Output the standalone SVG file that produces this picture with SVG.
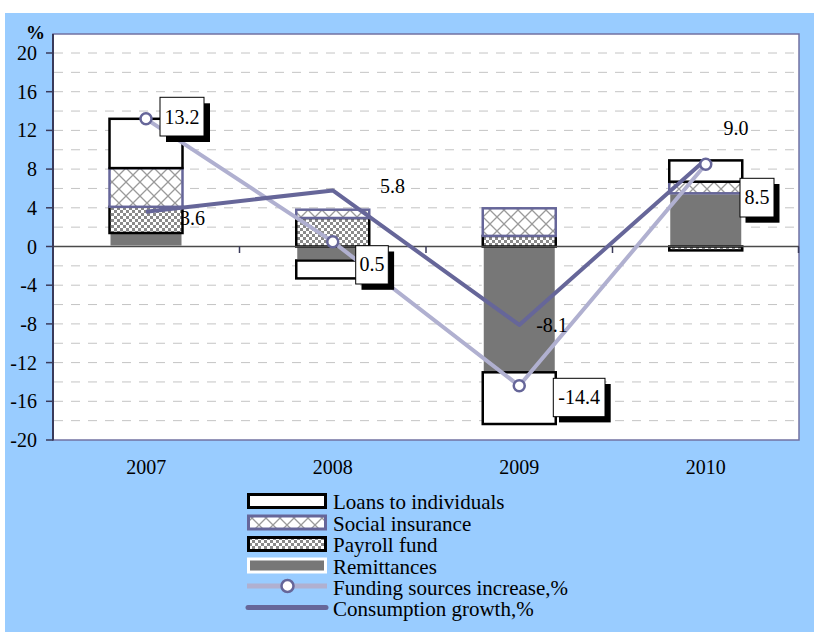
<svg xmlns="http://www.w3.org/2000/svg" width="814" height="632" viewBox="0 0 814 632" font-family="'Liberation Serif', 'Times New Roman', 'DejaVu Serif', serif">
<defs>
<pattern id="cross" width="14" height="14" patternUnits="userSpaceOnUse">
<rect width="14" height="14" fill="#ffffff"/>
<path d="M0,0 L14,14 M14,0 L0,14" stroke="#9a9a9a" stroke-width="1.3" fill="none"/>
</pattern>
<pattern id="check" width="6" height="6" patternUnits="userSpaceOnUse">
<rect width="6" height="6" fill="#ffffff"/>
<rect x="0" y="0" width="3" height="3" fill="#8a8a8a"/>
<rect x="3" y="3" width="3" height="3" fill="#8a8a8a"/>
</pattern>
</defs>
<style>
text{font-family:'Liberation Serif','Times New Roman','DejaVu Serif',serif;fill:#000}
.ax{font-size:20px;text-anchor:end}
.cat{font-size:20px;text-anchor:middle}
.lbl{font-size:20px;text-anchor:middle}
.leg{font-size:21px}
.grid{stroke:#c4c4c4;stroke-width:1;stroke-dasharray:9 8}
.loans{fill:#ffffff;stroke:#000;stroke-width:2.5}
.soc{fill:url(#cross);stroke:#666699;stroke-width:2.5}
.pay{fill:url(#check);stroke:#000;stroke-width:2.5}
.rem{fill:#777777;stroke:#ffffff;stroke-width:2}
.fund{fill:none;stroke:#b0b0d0;stroke-width:4;stroke-linejoin:round}
.cons{fill:none;stroke:#666699;stroke-width:4;stroke-linejoin:round}
.mk{fill:#ffffff;stroke:#666699;stroke-width:2.5}
.shadow{fill:#000}
.box{fill:#ffffff;stroke:#000;stroke-width:1}
.tick{stroke:#3a3a5a;stroke-width:1.5}
</style>
<rect x="0" y="0" width="814" height="632" fill="#ffffff"/>
<rect x="5" y="13" width="809" height="619" fill="#99ccff"/>
<g id="plot">
<rect x="53" y="34" width="746" height="406" fill="#ffffff" stroke="#7272a2" stroke-width="1.5"/>
<g id="gridlines">
<line class="grid" x1="54" y1="53" x2="798" y2="53"/>
<line class="grid" x1="54" y1="72.35" x2="798" y2="72.35"/>
<line class="grid" x1="54" y1="91.7" x2="798" y2="91.7"/>
<line class="grid" x1="54" y1="111.05" x2="798" y2="111.05"/>
<line class="grid" x1="54" y1="130.4" x2="798" y2="130.4"/>
<line class="grid" x1="54" y1="149.75" x2="798" y2="149.75"/>
<line class="grid" x1="54" y1="169.1" x2="798" y2="169.1"/>
<line class="grid" x1="54" y1="188.45" x2="798" y2="188.45"/>
<line class="grid" x1="54" y1="207.8" x2="798" y2="207.8"/>
<line class="grid" x1="54" y1="227.15" x2="798" y2="227.15"/>
<line class="grid" x1="54" y1="265.85" x2="798" y2="265.85"/>
<line class="grid" x1="54" y1="285.2" x2="798" y2="285.2"/>
<line class="grid" x1="54" y1="304.55" x2="798" y2="304.55"/>
<line class="grid" x1="54" y1="323.9" x2="798" y2="323.9"/>
<line class="grid" x1="54" y1="343.25" x2="798" y2="343.25"/>
<line class="grid" x1="54" y1="362.6" x2="798" y2="362.6"/>
<line class="grid" x1="54" y1="381.95" x2="798" y2="381.95"/>
<line class="grid" x1="54" y1="401.3" x2="798" y2="401.3"/>
<line class="grid" x1="54" y1="420.65" x2="798" y2="420.65"/>
</g>
</g>
<g id="bars">
<g id="bar-2007">
<rect class="rem" x="109.5" y="233" width="73" height="13.5"/>
<rect class="pay" x="109.5" y="206.8" width="73" height="26.2"/>
<rect class="soc" x="109.5" y="168.1" width="73" height="38.7"/>
<rect class="loans" x="109.5" y="118.8" width="73" height="49.3"/>
</g>
<g id="bar-2008">
<rect class="rem" x="296.25" y="246.5" width="73" height="13.5"/>
<rect class="pay" x="296.25" y="218" width="73" height="28.5"/>
<rect class="soc" x="296.25" y="209.7" width="73" height="8.3"/>
<rect class="loans" x="296.25" y="260.5" width="73" height="17.9"/>
</g>
<g id="bar-2009">
<rect class="rem" x="482.75" y="246.5" width="73" height="125.8"/>
<rect class="pay" x="482.75" y="235.9" width="73" height="10.6"/>
<rect class="soc" x="482.75" y="208.3" width="73" height="27.6"/>
<rect class="loans" x="482.75" y="372.3" width="73" height="51.7"/>
</g>
<g id="bar-2010">
<rect class="rem" x="669.25" y="193.3" width="73" height="53.2"/>
<rect class="pay" x="669.25" y="246.5" width="73" height="3.9"/>
<rect class="soc" x="669.25" y="181.7" width="73" height="11.6"/>
<rect class="loans" x="669.25" y="160.4" width="73" height="21.3"/>
</g>
</g>
<g id="axes">
<line x1="53" y1="246.5" x2="799" y2="246.5" stroke="#4a4a4a" stroke-width="1.5"/>
<line class="tick" x1="239.5" y1="246.5" x2="239.5" y2="253"/>
<line class="tick" x1="426" y1="246.5" x2="426" y2="253"/>
<line class="tick" x1="612.5" y1="246.5" x2="612.5" y2="253"/>
<line class="tick" x1="798.5" y1="246.5" x2="798.5" y2="253"/>
<line x1="53" y1="34" x2="53" y2="440.5" stroke="#3a3a5a" stroke-width="2"/>
<line class="tick" x1="46" y1="53" x2="53" y2="53"/>
<line class="tick" x1="46" y1="91.7" x2="53" y2="91.7"/>
<line class="tick" x1="46" y1="130.4" x2="53" y2="130.4"/>
<line class="tick" x1="46" y1="169.1" x2="53" y2="169.1"/>
<line class="tick" x1="46" y1="207.8" x2="53" y2="207.8"/>
<line class="tick" x1="46" y1="246.5" x2="53" y2="246.5"/>
<line class="tick" x1="46" y1="285.2" x2="53" y2="285.2"/>
<line class="tick" x1="46" y1="323.9" x2="53" y2="323.9"/>
<line class="tick" x1="46" y1="362.6" x2="53" y2="362.6"/>
<line class="tick" x1="46" y1="401.3" x2="53" y2="401.3"/>
<line class="tick" x1="46" y1="440" x2="53" y2="440"/>
<text x="26" y="39" style="font-size:19px;font-weight:bold">%</text>
<text class="ax" x="37" y="60">20</text>
<text class="ax" x="37" y="98.7">16</text>
<text class="ax" x="37" y="137.4">12</text>
<text class="ax" x="37" y="176.1">8</text>
<text class="ax" x="37" y="214.8">4</text>
<text class="ax" x="37" y="253.5">0</text>
<text class="ax" x="37" y="292.2">-4</text>
<text class="ax" x="37" y="330.9">-8</text>
<text class="ax" x="37" y="369.6">-12</text>
<text class="ax" x="37" y="408.3">-16</text>
<text class="ax" x="37" y="447">-20</text>
<text class="cat" x="146.25" y="474">2007</text>
<text class="cat" x="332.75" y="474">2008</text>
<text class="cat" x="519.25" y="474">2009</text>
<text class="cat" x="705.75" y="474">2010</text>
</g>
<g id="connectors">
<polyline class="fund" points="146,118.8 332.75,241.7 519.25,385.8 705.75,164.3"/>
<polyline class="cons" points="146,211.7 332.75,190.4 519.25,324.9 705.75,159.4"/>
<circle class="mk" cx="146" cy="118.8" r="5.5"/>
<circle class="mk" cx="332.75" cy="241.7" r="5.5"/>
<circle class="mk" cx="519.25" cy="385.8" r="5.5"/>
<circle class="mk" cx="705.75" cy="164.3" r="5.5"/>
</g>
<g id="labels">
<g id="lbl-13-2">
<rect class="shadow" x="166" y="103.3" width="44" height="38.7"/>
<rect class="box" x="160" y="97.3" width="44" height="38.7"/>
<text class="lbl" x="182" y="123.5">13.2</text>
</g>
<g id="lbl-0-5">
<rect class="shadow" x="361.5" y="251.5" width="32.6" height="38.3"/>
<rect class="box" x="355.7" y="245.7" width="32.6" height="38.3"/>
<text class="lbl" x="372" y="271">0.5</text>
</g>
<g id="lbl-14-4">
<rect class="shadow" x="559" y="384" width="51.7" height="38.4"/>
<rect class="box" x="553.3" y="378.3" width="51.7" height="38.4"/>
<text class="lbl" x="579.2" y="404">-14.4</text>
</g>
<g id="lbl-8-5">
<rect class="shadow" x="745.5" y="184" width="34" height="38.7"/>
<rect class="box" x="740" y="178.3" width="34" height="38.7"/>
<text class="lbl" x="757" y="204">8.5</text>
</g>
<text class="lbl" x="192.5" y="225">3.6</text>
<text class="lbl" x="392.5" y="192.5">5.8</text>
<text class="lbl" x="552" y="331.7">-8.1</text>
<text class="lbl" x="736" y="135">9.0</text>
</g>
<g id="legend">
<g id="leg-loans">
<rect class="loans" x="248.5" y="494.5" width="77" height="13" style="stroke-width:3"/>
<text class="leg" x="333" y="509">Loans to individuals</text>
</g>
<g id="leg-social">
<rect class="soc" x="248.5" y="516" width="77" height="13" style="stroke-width:3"/>
<text class="leg" x="333" y="530.5">Social insurance</text>
</g>
<g id="leg-payroll">
<rect class="pay" x="248.5" y="537.5" width="77" height="13" style="stroke-width:3"/>
<text class="leg" x="333" y="552">Payroll fund</text>
</g>
<g id="leg-remit">
<rect class="rem" x="248.5" y="559" width="77" height="13" style="stroke-width:3"/>
<text class="leg" x="333" y="573.5">Remittances</text>
</g>
<g id="leg-fund">
<line class="fund" x1="247" y1="586" x2="327" y2="586" style="stroke-width:5"/>
<circle class="mk" cx="287.5" cy="586" r="6"/>
<text class="leg" x="333" y="594.5">Funding sources increase,%</text>
</g>
<g id="leg-cons">
<line class="cons" x1="248" y1="607.5" x2="326" y2="607.5" style="stroke-width:5;stroke-linecap:round"/>
<text class="leg" x="333" y="616">Consumption growth,%</text>
</g>
</g>
</svg>
